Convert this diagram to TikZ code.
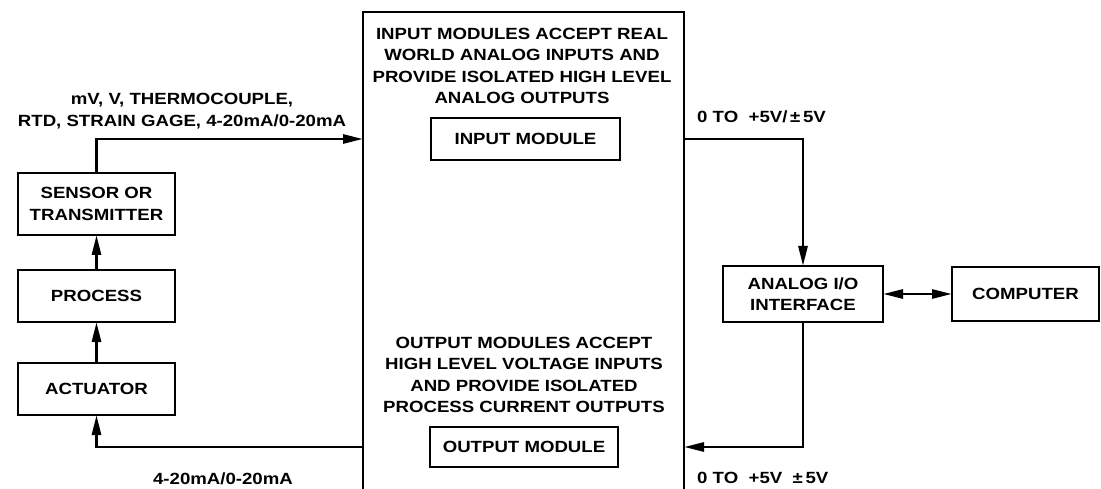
\documentclass[tikz,border=0pt]{standalone}
\usepackage{fontspec}
\setmainfont{Liberation Sans}[FakeStretch=1.15]
\usetikzlibrary{arrows.meta, positioning}
\tikzset{
  unit/.style={rectangle, draw=black, line width=2.7pt, align=center, inner sep=2pt, outer sep=0pt},
  link/.style={-{Triangle[length=20pt,width=9pt]}, line width=2.7pt},
  tag/.style={align=center, inner sep=0pt}
}

\begin{document}
\begin{tikzpicture}[x=1pt, y=-1pt,
  every node/.style={font=\bfseries\fontsize{16.2}{21.3}\selectfont}
]
\useasboundingbox (0,0) rectangle (1101,489);

% Process loop
\node[unit, minimum width=157pt, minimum height=62pt] (sens) at (96.5,204) {SENSOR OR\\TRANSMITTER};
\node[unit, minimum width=157pt, minimum height=52pt, below=35pt of sens] (proc) {PROCESS};
\node[unit, minimum width=157pt, minimum height=52pt, below=41pt of proc] (act) {ACTUATOR};
\draw[link] (act) -- (proc);
\draw[link] (proc) -- (sens);

% Module frame (open at the bottom)
\node[minimum width=321pt, minimum height=477pt, inner sep=0pt, outer sep=0pt] (mod) at (523.5,250.5) {};
\draw[line width=2.7pt] (mod.south west) |- (mod.north east) -- (mod.south east);

\node[tag] (indesc) at (522,66) {INPUT MODULES ACCEPT REAL\\WORLD ANALOG INPUTS AND\\PROVIDE ISOLATED HIGH LEVEL\\ANALOG OUTPUTS};
\node[unit, minimum width=189pt, minimum height=42pt] (inmod) at (525.5,139) {INPUT MODULE};

\node[tag] (outdesc) at (524,375) {OUTPUT MODULES ACCEPT\\HIGH LEVEL VOLTAGE INPUTS\\AND PROVIDE ISOLATED\\PROCESS CURRENT OUTPUTS};
\node[unit, minimum width=188pt, minimum height=40pt] (outmod) at (524,447) {OUTPUT MODULE};

% Computer side
\node[unit, minimum width=160pt, minimum height=56pt] (aio) at (803,294) {ANALOG I/O\\INTERFACE};
\node[unit, minimum width=147pt, minimum height=54pt, right=69pt of aio] (comp) {COMPUTER};
\draw[link, {Triangle[length=20pt,width=9pt]}-{Triangle[length=20pt,width=9pt]}] (aio) -- (comp);

% Signal paths
\draw[link] (sens.north) |- (mod.west |- inmod);
\draw[link] (mod.east |- inmod) -| (aio.north);
\draw[link] (aio.south) |- (mod.east |- outmod);
\draw[link] (mod.west |- outmod) -| (act.south);

% Signal labels
\node[tag] (inlbl) at (182,111) {mV, V, THERMOCOUPLE,\\RTD, STRAIN GAGE, 4-20mA/0-20mA};
\node[tag, anchor=west] (vin) at (697,117) {0 TO\ \ +5V/\,±\,5V};
\node[tag, anchor=west] (vout) at (697,478) {0 TO\ \ +5V\ \ ±\,5V};
\node[tag] (iout) at (223,479) {4-20mA/0-20mA};

\end{tikzpicture}
\end{document}
